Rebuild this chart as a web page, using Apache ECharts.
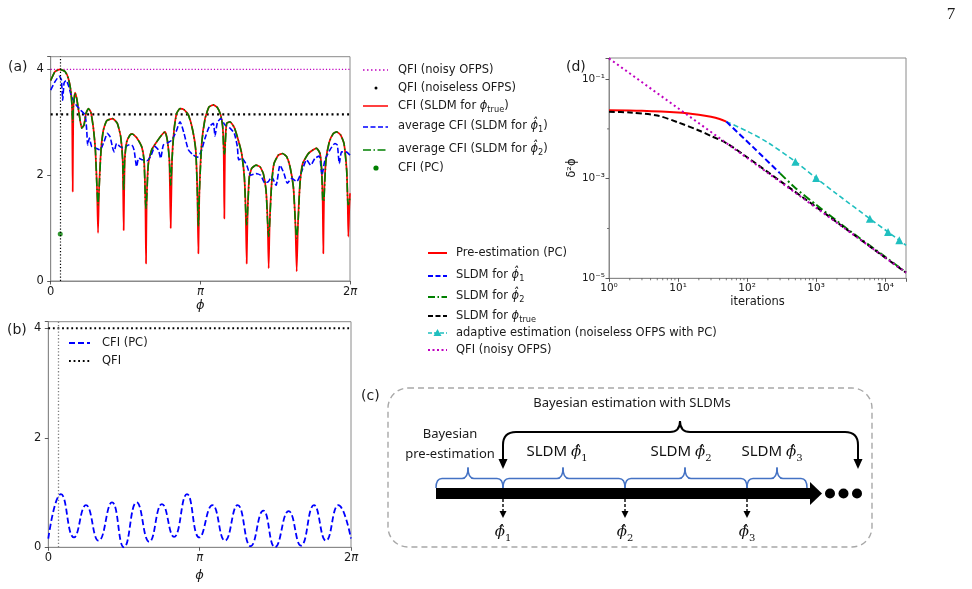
<!DOCTYPE html>
<html><head><meta charset="utf-8">
<script src="https://cdn.jsdelivr.net/npm/echarts@6/dist/echarts.min.js"></script>
<style>html,body{margin:0;padding:0;background:#fff}#c{width:972px;height:589px}</style>
</head><body><div id="c"></div><script>
// ---------- DATA ----------
// panel (a)
const phiA = [0,0.091,0.196,0.301,0.371,0.420,0.448,0.462,0.476,0.511,0.546,0.595,0.651,0.700,0.742,0.791,0.840,0.896,0.938,0.973,0.994,1.015,1.057,1.105,1.175,1.301,1.399,1.469,1.511,1.532,1.553,1.595,1.665,1.714,1.805,1.910,1.959,1.987,2.001,2.015,2.050,2.120,2.225,2.330,2.400,2.449,2.491,2.519,2.547,2.589,2.645,2.715,2.799,2.890,2.981,3.044,3.079,3.100,3.121,3.170,3.240,3.323,3.414,3.498,3.568,3.610,3.631,3.645,3.659,3.694,3.764,3.855,3.939,4.009,4.065,4.093,4.114,4.135,4.170,4.219,4.310,4.394,4.464,4.520,4.555,4.576,4.597,4.639,4.688,4.779,4.870,4.954,5.024,5.094,5.136,5.164,5.192,5.234,5.290,5.409,5.513,5.583,5.653,5.688,5.709,5.723,5.737,5.779,5.849,5.933,6.003,6.087,6.157,6.213,6.234,6.248,6.269,6.283];
const cfiTrue = [3.79,3.96,4.00,3.96,3.83,3.61,3.29,1.69,3.29,3.56,3.45,3.17,2.89,2.95,3.17,3.26,3.20,2.89,2.48,1.72,0.91,1.72,2.48,2.85,3.03,3.07,2.98,2.73,2.29,0.96,2.29,2.63,2.76,2.78,2.71,2.54,2.29,1.53,0.33,1.53,2.22,2.48,2.63,2.76,2.82,2.66,2.29,1.00,2.29,2.85,3.17,3.26,3.24,3.14,2.85,2.48,1.66,0.52,1.66,2.60,3.07,3.29,3.33,3.28,3.14,2.92,2.48,1.18,2.48,2.98,3.01,2.90,2.66,2.41,1.97,1.34,0.33,1.34,1.97,2.13,2.19,2.16,2.03,1.72,1.09,0.24,1.09,1.85,2.22,2.38,2.41,2.35,2.16,1.78,1.09,0.18,1.09,1.85,2.22,2.41,2.48,2.51,2.41,2.10,1.53,0.52,1.53,2.29,2.63,2.79,2.82,2.76,2.60,2.10,1.53,0.84,1.40,1.66];
const cfiAvg2 = [3.79,3.96,4.00,3.96,3.83,3.61,3.29,3.00,3.29,3.56,3.45,3.17,2.89,2.95,3.17,3.26,3.20,2.89,2.48,1.72,1.44,1.72,2.48,2.85,3.03,3.07,2.98,2.73,2.29,1.72,2.29,2.63,2.76,2.78,2.71,2.54,2.29,1.53,1.37,1.53,2.22,2.48,2.63,2.76,2.82,2.66,2.29,1.81,2.29,2.85,3.17,3.26,3.24,3.14,2.85,2.48,1.66,1.03,1.66,2.60,3.07,3.29,3.33,3.28,3.14,2.92,2.48,2.40,2.48,2.98,3.01,2.90,2.66,2.41,1.97,1.34,1.06,1.34,1.97,2.13,2.19,2.16,2.03,1.72,1.09,0.84,1.09,1.85,2.22,2.38,2.41,2.35,2.16,1.78,1.09,0.81,1.09,1.85,2.22,2.41,2.48,2.51,2.41,2.10,1.53,1.50,1.53,2.29,2.63,2.79,2.82,2.76,2.60,2.10,1.53,1.44,1.50,1.60];
const phiA1 = [0,0.091,0.182,0.224,0.252,0.280,0.322,0.371,0.441,0.532,0.630,0.721,0.756,0.777,0.812,0.861,0.952,1.036,1.119,1.189,1.245,1.294,1.329,1.385,1.455,1.539,1.630,1.700,1.749,1.805,1.847,1.931,2.015,2.099,2.190,2.260,2.309,2.365,2.449,2.540,2.631,2.715,2.799,2.890,2.995,3.079,3.156,3.240,3.330,3.414,3.449,3.498,3.568,3.659,3.764,3.855,3.918,3.946,4.009,4.114,4.198,4.310,4.408,4.499,4.569,4.639,4.730,4.814,4.898,4.968,5.059,5.164,5.269,5.374,5.458,5.548,5.639,5.695,5.758,5.863,5.968,6.017,6.059,6.108,6.199,6.283];
const cfiAvg1 = [3.61,3.77,3.87,3.80,3.42,3.74,3.79,3.70,3.48,3.33,3.23,3.14,2.85,2.57,2.70,2.54,2.51,2.48,2.63,2.79,2.73,2.54,2.44,2.60,2.54,2.51,2.57,2.57,2.48,2.16,2.32,2.29,2.27,2.36,2.54,2.48,2.32,2.57,2.61,2.66,2.82,3.01,2.79,2.48,2.38,2.34,2.44,2.70,2.92,2.98,2.74,2.99,3.07,2.95,2.89,2.79,2.54,2.29,2.32,2.19,2.00,2.03,2.00,1.85,1.88,1.97,1.81,2.19,2.03,1.85,1.94,1.88,2.07,2.29,2.19,2.32,2.36,2.00,2.29,2.48,2.60,2.57,2.22,2.44,2.44,2.38];
const qfiNoisyA = 4;
const qfiNoiselessA = 3.15;
const phiTrue = 0.2;
const cfiPCAtTrue = 0.89;
// panel (b)
const phiB = [0,0.263,0.533,0.782,1.045,1.322,1.571,1.834,2.097,2.360,2.609,2.879,3.135,3.405,3.667,3.930,4.200,4.463,4.705,4.989,5.245,5.515,5.764,6.020,6.283];
const cfiPC = [0.16,0.97,0.18,0.77,0.12,0.82,0.00,0.82,0.10,0.79,0.19,0.97,0.18,0.77,0.12,0.77,0.02,0.67,0.00,0.66,0.03,0.77,0.12,0.77,0.16];
const qfiB = 4;
// panel (d)
const nPre = [1,3,10,20,30,40,50];
const dPre = [0.0238,0.0232,0.0213,0.0192,0.0175,0.0158,0.0140];
const nSL1 = [50,120,300];
const dSL1 = [0.0140,0.0044,0.00128];
const nSL2 = [300,500,1000,3000,10000,20000];
const dSL2 = [0.00128,0.00065,0.00030,0.000092,0.000027,0.0000132];
const nTrue = [1,2,5,10,20,30,50,100,300,1000,3000,10000,20000];
const dTrue = [0.022,0.0214,0.0185,0.0135,0.0093,0.0072,0.0052,0.0027,0.0009,0.00027,0.000088,0.000026,0.000013];
const nAd = [50,100,200,500,1000,2000,6000,11000,16000,20000];
const dAd = [0.0140,0.0090,0.0053,0.0022,0.00103,0.00049,0.000157,0.000085,0.000058,0.000046];
const adMarkerIdx = [3,4,6,7,8];
const nQ = [1,10,100,1000,20000];
const dQ = [0.26,0.026,0.0026,0.00026,0.000013];
// tick labels
const phiLabels = ['0','{i|π}','2{i|π}'];
const fisherLabels = ['0','2','4'];
const iterExps = [0,1,2,3,4];
const iterLabels = ['10⁰','10¹','10²','10³','10⁴'];
const varExps = [-5,-3,-1];
const varLabels = ['10⁻⁵','10⁻³','10⁻¹'];

// ---------- STYLE ----------
const FONT = 'DejaVu Sans';
const TXT = '#1a1a1a';
const MAG = '#c000c0', BLUE = '#0000ff', GREEN = '#008000', RED = '#ff0000', CYAN = '#1fbfbf';
const pairs = (xs, ys) => xs.map((x, i) => [x, ys[i]]);
const span = [0, 2 * Math.PI];

function phiFmt(v){ const k = Math.round(v / Math.PI); return Math.abs(v - k * Math.PI) < 1e-6 ? phiLabels[k] : ''; }
function fisherFmt(v){ const k = Math.round(v / 2); return Math.abs(v - 2 * k) < 1e-6 ? fisherLabels[k] : ''; }
function iterFmt(v){ const e = Math.log10(v), r = Math.round(e); const i = iterExps.indexOf(r); return (Math.abs(e - r) < 1e-6 && i >= 0) ? iterLabels[i] : ''; }
function varFmt(v){ const e = Math.log10(v), r = Math.round(e); const i = varExps.indexOf(r); return (Math.abs(e - r) < 1e-6 && i >= 0) ? varLabels[i] : ''; }

const axLine = {show:true, lineStyle:{color:'#8a8a8a', width:1}};
const axTick = {show:true, length:3.5, lineStyle:{color:'#333', width:0.8}};
const lab = (extra) => Object.assign({color:TXT, fontFamily:FONT, fontSize:11.5}, extra);
const nameStyle = (extra) => Object.assign({color:TXT, fontFamily:FONT, fontSize:12.5}, extra);
const gridBox = {show:true, borderColor:'#8a8a8a', borderWidth:1, backgroundColor:'transparent'};

// ---------- GRAPHIC (legends, labels, panel c) ----------
const G = [];
const RICH = {
  t:{fontFamily:FONT, fontSize:11.5, lineHeight:16, fill:TXT},
  m:{fontFamily:FONT, fontStyle:'italic', fontSize:11.5, lineHeight:16, fill:TXT},
  s:{fontFamily:FONT, fontSize:8.2, lineHeight:8, verticalAlign:'bottom', fill:TXT}
};
function txt(x, y, text, opt){
  G.push({type:'text', x:x, y:y, silent:true, z:100, style:Object.assign({text:text, fill:TXT, font:'11.5px "DejaVu Sans"', align:'left', verticalAlign:'middle', textAlign:'left', textVerticalAlign:'middle'}, opt || {})});
}
function ln(x1, y1, x2, y2, stroke, w, dash){
  G.push({type:'line', silent:true, z:100, shape:{x1:x1, y1:y1, x2:x2, y2:y2}, style:{stroke:stroke, lineWidth:w, lineDash:dash || null, fill:'none'}});
}
function dot(cx, cy, r, fill){ G.push({type:'circle', silent:true, z:100, shape:{cx:cx, cy:cy, r:r}, style:{fill:fill}}); }
function poly(points, fill){ G.push({type:'polygon', silent:true, z:100, shape:{points:points}, style:{fill:fill}}); }
function bz(x1, y1, x2, y2, cx, cy, stroke, w){
  G.push({type:'bezierCurve', silent:true, z:100, shape:{x1:x1, y1:y1, x2:x2, y2:y2, cpx1:cx, cpy1:cy}, style:{stroke:stroke, lineWidth:w, fill:'none'}});
}

// panel labels & page number
txt(8, 67, '(a)', {font:'14px "DejaVu Sans"'});
txt(7, 330, '(b)', {font:'14px "DejaVu Sans"'});
txt(361, 396, '(c)', {font:'14px "DejaVu Sans"'});
txt(566, 67, '(d)', {font:'14px "DejaVu Sans"'});
txt(951, 15, '7', {font:'17px "Liberation Serif"', align:'center', textAlign:'center'});

// legend (a)
const LA = {x0:363, x1:388, tx:398};
ln(LA.x0, 70, LA.x1, 70, MAG, 1.5, [1.5, 2.5]);
txt(LA.tx, 70, '{t|QFI (noisy OFPS)}', {rich:RICH});
dot(376, 88, 1.5, '#000');
txt(LA.tx, 88, '{t|QFI (noiseless OFPS)}', {rich:RICH});
ln(LA.x0, 106, LA.x1, 106, RED, 1.5);
txt(LA.tx, 106, '{t|CFI (SLDM for }{m|ϕ}{s|true}{t|)}', {rich:RICH});
ln(LA.x0, 127, LA.x1, 127, BLUE, 1.5, [5, 2.5]);
txt(LA.tx, 126, '{t|average CFI (SLDM for }{m|ϕ̂}{s|1}{t|)}', {rich:RICH});
ln(LA.x0, 150, LA.x1, 150, GREEN, 1.5, [8, 2.5, 1.5, 2.5]);
txt(LA.tx, 149, '{t|average CFI (SLDM for }{m|ϕ̂}{s|2}{t|)}', {rich:RICH});
dot(376, 168, 2.6, GREEN);
txt(LA.tx, 168, '{t|CFI (PC)}', {rich:RICH});

// legend (d)
const LD = {x0:428, x1:447, tx:456};
ln(LD.x0, 253, LD.x1, 253, RED, 2);
txt(LD.tx, 253, '{t|Pre-estimation (PC)}', {rich:RICH});
ln(LD.x0, 276, LD.x1, 276, BLUE, 2, [5, 2.5]);
txt(LD.tx, 275, '{t|SLDM for }{m|ϕ̂}{s|1}', {rich:RICH});
ln(LD.x0, 297, LD.x1, 297, GREEN, 2, [7, 2.5, 1.5, 2.5]);
txt(LD.tx, 296, '{t|SLDM for }{m|ϕ̂}{s|2}', {rich:RICH});
ln(LD.x0, 316, LD.x1, 316, '#000', 2, [5, 2.5]);
txt(LD.tx, 316, '{t|SLDM for }{m|ϕ}{s|true}', {rich:RICH});
ln(LD.x0, 333, LD.x1, 333, CYAN, 1.5, [4, 2]);
poly([[437.5, 329], [441.5, 336], [433.5, 336]], CYAN);
txt(LD.tx, 333, '{t|adaptive estimation (noiseless OFPS with PC)}', {rich:RICH});
ln(LD.x0, 350, LD.x1, 350, MAG, 2, [2, 2.5]);
txt(LD.tx, 350, '{t|QFI (noisy OFPS)}', {rich:RICH});

// legend (b)
ln(69, 343, 90, 343, BLUE, 1.8, [6, 3]);
txt(102, 343, '{t|CFI (PC)}', {rich:RICH});
ln(69, 361, 90, 361, '#000', 1.8, [1.8, 2.8]);
txt(102, 361, '{t|QFI}', {rich:RICH});

// panel (c) schematic
G.push({type:'rect', silent:true, z:90, shape:{x:388, y:388, width:484, height:159, r:20}, style:{fill:'none', stroke:'#a8a8a8', lineWidth:1.4, lineDash:[6, 4]}});
const CF = 'Noto Sans';
txt(632, 403, 'Bayesian estimation with SLDMs', {font:'13px "Noto Sans"', align:'center', textAlign:'center'});
txt(450, 434, 'Bayesian', {font:'13px "Noto Sans"', align:'center', textAlign:'center'});
txt(450, 454, 'pre-estimation', {font:'13px "Noto Sans"', align:'center', textAlign:'center'});
const RC = {
  a:{fontFamily:CF, fontSize:15, lineHeight:22, fill:'#111'},
  p:{fontFamily:'DejaVu Serif', fontStyle:'italic', fontSize:15, lineHeight:22, fill:'#111'},
  s:{fontFamily:'DejaVu Serif', fontSize:10, lineHeight:10, verticalAlign:'bottom', fill:'#111'}
};
txt(557, 452, '{a|SLDM }{p|ϕ̂}{s|1}', {rich:RC, align:'center', textAlign:'center'});
txt(681, 452, '{a|SLDM }{p|ϕ̂}{s|2}', {rich:RC, align:'center', textAlign:'center'});
txt(772, 452, '{a|SLDM }{p|ϕ̂}{s|3}', {rich:RC, align:'center', textAlign:'center'});
// blue braces
function brace(x0, x1, xc, yb, yl, yt, col, w){
  const r = 6;
  bz(x0, yb, x0 + r, yl, x0, yl, col, w);
  ln(x0 + r, yl, xc - r, yl, col, w);
  bz(xc - r, yl, xc, yt, xc, yl, col, w);
  bz(xc, yt, xc + r, yl, xc, yl, col, w);
  ln(xc + r, yl, x1 - r, yl, col, w);
  bz(x1 - r, yl, x1, yb, x1, yl, col, w);
}
const BB = '#4472c4';
brace(436, 503, 468, 488, 478.5, 467.5, BB, 1.5);
brace(503, 625, 563, 488, 478.5, 467.5, BB, 1.5);
brace(625, 747, 685, 488, 478.5, 467.5, BB, 1.5);
brace(747, 807, 777, 488, 478.5, 467.5, BB, 1.5);
// black brace with arrows
(function(){
  const xl = 503, xr = 858, xc = 680, yl = 432, yt = 421, r = 13, w = 2;
  ln(xl, 460, xl, yl + r, '#000', w);
  bz(xl, yl + r, xl + r, yl, xl, yl, '#000', w);
  ln(xl + r, yl, xc - 10, yl, '#000', w);
  bz(xc - 10, yl, xc, yt, xc, yl, '#000', w);
  bz(xc, yt, xc + 10, yl, xc, yl, '#000', w);
  ln(xc + 10, yl, xr - r, yl, '#000', w);
  bz(xr - r, yl, xr, yl + r, xr, yl, '#000', w);
  ln(xr, yl + r, xr, 460, '#000', w);
  poly([[xl - 4.5, 459], [xl + 4.5, 459], [xl, 469]], '#000');
  poly([[xr - 4.5, 459], [xr + 4.5, 459], [xr, 469]], '#000');
})();
// main arrow
G.push({type:'rect', silent:true, z:100, shape:{x:436, y:488, width:375, height:11}, style:{fill:'#000'}});
poly([[810, 482], [822, 493.5], [810, 505]], '#000');
dot(830, 493.5, 5, '#000');
dot(843.5, 493.5, 5, '#000');
dot(857, 493.5, 5, '#000');
// estimate arrows & labels
[[503, '1'], [625, '2'], [747, '3']].forEach(function(a){
  ln(a[0], 499, a[0], 511, '#000', 1.4, [3, 2]);
  poly([[a[0] - 3.5, 511], [a[0] + 3.5, 511], [a[0], 518]], '#000');
  txt(a[0], 532, '{p|ϕ̂}{s|' + a[1] + '}', {rich:RC, align:'center', textAlign:'center'});
});

// ---------- CHART ----------
const chart = echarts.init(document.getElementById('c'));
const minorX = [];
[1, 10, 100, 1000, 10000].forEach(function(d){ for (let k = 2; k <= 9; k++) { if (k * d < 20000) minorX.push([k * d, 1e-5, 0]); } });
const minorY = [[1, 1e-2, 1], [1, 1e-4, 1]];

const adData = nAd.map(function(n, i){
  return adMarkerIdx.indexOf(i) >= 0 ? {value:[n, dAd[i]], symbol:'triangle', symbolSize:8} : {value:[n, dAd[i]], symbol:'none'};
});

chart.setOption({
  animation:false,
  backgroundColor:'#fff',
  grid:[
    Object.assign({left:50.7, top:56.7, width:299.3, height:224.3}, gridBox),
    Object.assign({left:48.3, top:321.7, width:302.7, height:225.6}, gridBox),
    Object.assign({left:609, top:58, width:297, height:220.3}, gridBox)
  ],
  xAxis:[
    {gridIndex:0, type:'value', min:0, max:2 * Math.PI, interval:Math.PI, axisLine:axLine, axisTick:axTick, splitLine:{show:false},
     axisLabel:lab({margin:5, formatter:phiFmt, rich:{i:{fontStyle:'italic', fontFamily:FONT, fontSize:11.5, color:TXT}}}),
     name:'ϕ', nameLocation:'middle', nameGap:17, nameTextStyle:nameStyle({fontStyle:'italic', fontSize:13})},
    {gridIndex:1, type:'value', min:0, max:2 * Math.PI, interval:Math.PI, axisLine:axLine, axisTick:axTick, splitLine:{show:false},
     axisLabel:lab({margin:5, formatter:phiFmt, rich:{i:{fontStyle:'italic', fontFamily:FONT, fontSize:11.5, color:TXT}}}),
     name:'ϕ', nameLocation:'middle', nameGap:22, nameTextStyle:nameStyle({fontStyle:'italic', fontSize:13})},
    {gridIndex:2, type:'log', min:1, max:20000, interval:1, axisLine:axLine, axisTick:axTick, splitLine:{show:false}, minorTick:{show:false},
     axisLabel:lab({margin:4, fontSize:10.5, formatter:iterFmt}),
     name:'iterations', nameLocation:'middle', nameGap:18, nameTextStyle:nameStyle({fontSize:11.5})}
  ],
  yAxis:[
    {gridIndex:0, type:'value', min:0, max:4.24, interval:2, axisLine:axLine, axisTick:axTick, splitLine:{show:false},
     axisLabel:lab({margin:7, formatter:fisherFmt})},
    {gridIndex:1, type:'value', min:0, max:4.12, interval:2, axisLine:axLine, axisTick:axTick, splitLine:{show:false},
     axisLabel:lab({margin:7, formatter:fisherFmt})},
    {gridIndex:2, type:'log', min:1e-5, max:0.265, interval:2, axisLine:axLine, axisTick:axTick, splitLine:{show:false}, minorTick:{show:false},
     axisLabel:lab({margin:4, fontSize:10.5, formatter:varFmt}),
     name:'δ²ϕ', nameLocation:'middle', nameGap:30, nameRotate:90, nameTextStyle:nameStyle({fontSize:11.5})}
  ],
  series:[
    // ---- (a)
    {name:'QFI (noisy OFPS)', type:'line', xAxisIndex:0, yAxisIndex:0, data:span.map(function(x){return [x, qfiNoisyA];}), symbol:'none', silent:true,
     lineStyle:{color:MAG, width:1.2, type:[1.2, 2]},
     markLine:{silent:true, symbol:'none', label:{show:false}, lineStyle:{color:'#000', width:1.2, type:[1.2, 2]}, data:[{xAxis:phiTrue}]}},
    {name:'QFI (noiseless OFPS)', type:'line', xAxisIndex:0, yAxisIndex:0, data:span.map(function(x){return [x, qfiNoiselessA];}), symbol:'none', silent:true,
     lineStyle:{color:'#000', width:2.2, type:[2, 3.2]}},
    {name:'CFI (SLDM for phi_true)', type:'line', xAxisIndex:0, yAxisIndex:0, data:pairs(phiA, cfiTrue), symbol:'none', smooth:0.15, silent:true,
     lineStyle:{color:RED, width:1.7}},
    {name:'average CFI (SLDM for phi1)', type:'line', xAxisIndex:0, yAxisIndex:0, data:pairs(phiA1, cfiAvg1), symbol:'none', smooth:0.2, silent:true,
     lineStyle:{color:BLUE, width:1.6, type:[5.5, 2.4]}},
    {name:'average CFI (SLDM for phi2)', type:'line', xAxisIndex:0, yAxisIndex:0, data:pairs(phiA, cfiAvg2), symbol:'none', smooth:0.15, silent:true,
     lineStyle:{color:GREEN, width:1.6, type:[9, 2.4, 1.5, 2.4]}},
    {name:'CFI (PC)', type:'scatter', xAxisIndex:0, yAxisIndex:0, data:[[phiTrue, cfiPCAtTrue]], symbolSize:5, itemStyle:{color:GREEN}, silent:true},
    // ---- (b)
    {name:'QFI b', type:'line', xAxisIndex:1, yAxisIndex:1, data:span.map(function(x){return [x, qfiB];}), symbol:'none', silent:true,
     lineStyle:{color:'#000', width:1.8, type:[1.8, 2.8]},
     markLine:{silent:true, symbol:'none', label:{show:false}, lineStyle:{color:'#808080', width:1.3, type:[1.3, 2]}, data:[{xAxis:phiTrue}]}},
    {name:'CFI (PC) b', type:'line', xAxisIndex:1, yAxisIndex:1, data:pairs(phiB, cfiPC), symbol:'none', smooth:0.5, silent:true,
     lineStyle:{color:BLUE, width:1.8, type:[6, 3]}},
    // ---- (d)
    {name:'adaptive', type:'line', xAxisIndex:2, yAxisIndex:2, data:adData, symbol:'none', showSymbol:true, smooth:0.3, silent:true,
     itemStyle:{color:CYAN}, lineStyle:{color:CYAN, width:1.6, type:[5, 3]}},
    {name:'Pre-estimation (PC)', type:'line', xAxisIndex:2, yAxisIndex:2, data:pairs(nPre, dPre), symbol:'none', smooth:0.3, silent:true,
     lineStyle:{color:RED, width:2}},
    {name:'SLDM phi1', type:'line', xAxisIndex:2, yAxisIndex:2, data:pairs(nSL1, dSL1), symbol:'none', smooth:0.2, silent:true,
     lineStyle:{color:BLUE, width:2, type:[6, 3]}},
    {name:'SLDM phi2', type:'line', xAxisIndex:2, yAxisIndex:2, data:pairs(nSL2, dSL2), symbol:'none', smooth:0.2, silent:true,
     lineStyle:{color:GREEN, width:2, type:[8, 3, 2, 3]}},
    {name:'SLDM true', type:'line', xAxisIndex:2, yAxisIndex:2, data:pairs(nTrue, dTrue), symbol:'none', smooth:0.3, silent:true,
     lineStyle:{color:'#000', width:2, type:[6, 3]}},
    {name:'QFI d', type:'line', xAxisIndex:2, yAxisIndex:2, data:pairs(nQ, dQ), symbol:'none', silent:true,
     lineStyle:{color:MAG, width:2, type:[2, 3]}},
    {name:'minor ticks', type:'custom', xAxisIndex:2, yAxisIndex:2, silent:true, clip:false,
     data:minorX.concat(minorY),
     renderItem:function(params, api){
       const p = api.coord([api.value(0), api.value(1)]);
       const vert = api.value(2) === 0;
       return {type:'line', shape: vert ? {x1:p[0], y1:p[1], x2:p[0], y2:p[1] + 2} : {x1:p[0] - 2, y1:p[1], x2:p[0], y2:p[1]},
               style:{stroke:'#444', lineWidth:0.7}};
     }}
  ],
  graphic:{elements:G}
});
</script></body></html>
